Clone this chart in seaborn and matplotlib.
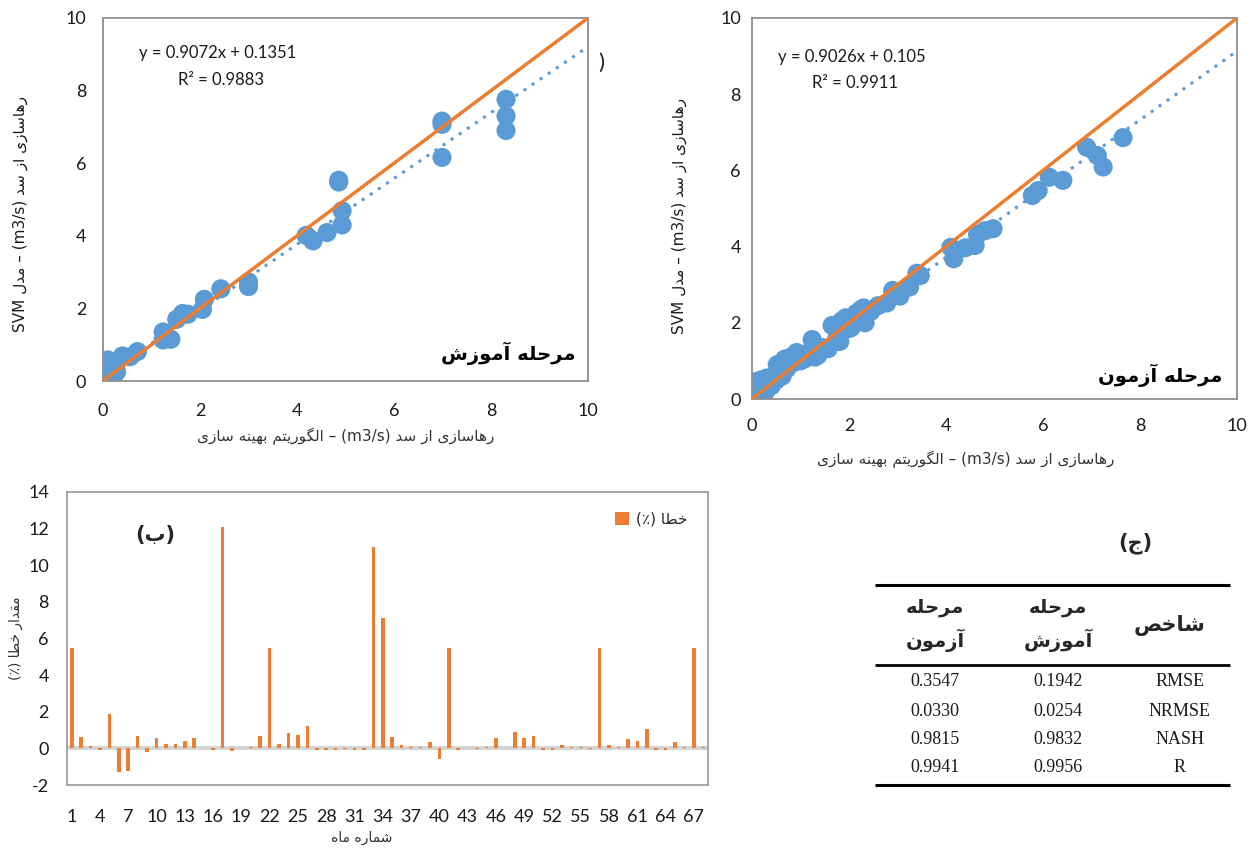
import re
import numpy as np
import pandas as pd
import matplotlib
matplotlib.use("Agg")
import matplotlib.pyplot as plt
import seaborn as sns

# ---------------- data ----------------
train_obs = [0.0, 0.0, 0.0, 0.0, 0.02, 0.05, 0.08, 0.1, 0.12, 0.15, 0.18, 0.2, 0.22, 0.25, 0.28, 0.3,
             0.4, 0.56, 0.71, 1.24, 1.24, 1.4, 1.52, 1.64, 1.75, 2.05, 2.09, 2.43, 3.0, 3.0,
             4.19, 4.33, 4.62, 4.86, 4.86, 4.93, 4.93, 6.99, 6.99, 6.99, 8.31, 8.31, 8.31]
train_pred = [0.0, 0.1, 0.2, 0.33, 0.05, 0.25, 0.12, 0.58, 0.3, 0.2, 0.5, 0.1, 0.35, 0.45, 0.25, 0.55,
              0.69, 0.67, 0.81, 1.35, 1.13, 1.15, 1.70, 1.86, 1.84, 1.97, 2.25, 2.54, 2.73, 2.6,
              4.01, 3.86, 4.09, 5.48, 5.53, 4.69, 4.30, 7.07, 7.16, 6.16, 7.76, 7.3, 6.9]

test_obs = [0.0, 0.0, 0.02, 0.03, 0.05, 0.06, 0.1, 0.1, 0.12, 0.15, 0.18, 0.2, 0.22, 0.25, 0.28, 0.3,
            0.33, 0.36, 0.4, 0.45, 0.5, 0.52, 0.55, 0.6, 0.62, 0.68, 0.72, 0.8, 0.85, 0.92, 1.0,
            1.08, 1.15, 1.24, 1.3, 1.36, 1.45, 1.57, 1.65, 1.75, 1.81, 1.85, 1.93, 2.0, 2.05,
            2.15, 2.25, 2.3, 2.33, 2.45, 2.6, 2.78, 2.9, 2.98, 3.05, 3.25, 3.4, 3.47, 4.1, 4.16,
            4.4, 4.6, 4.65, 4.81, 4.97, 5.78, 5.9, 6.13, 6.41, 6.9, 7.12, 7.24, 7.65]
test_pred = [0.0, 0.15, 0.35, 0.45, 0.05, 0.25, 0.1, 0.4, 0.3, 0.15, 0.5, 0.25, 0.05, 0.4, 0.2, 0.55,
             0.3, 0.45, 0.35, 0.6, 0.5, 0.9, 0.7, 0.95, 0.6, 1.05, 0.8, 1.1, 0.95, 1.22, 1.0,
             1.05, 1.2, 1.56, 1.1, 1.15, 1.35, 1.32, 1.93, 1.6, 1.51, 2.05, 2.13, 1.85, 1.88,
             2.25, 2.35, 2.39, 2.0, 2.3, 2.45, 2.52, 2.85, 2.74, 2.7, 2.94, 3.3, 3.24, 3.98, 3.68,
             3.97, 4.03, 4.32, 4.42, 4.47, 5.34, 5.47, 5.82, 5.74, 6.61, 6.39, 6.09, 6.86]

train_fit = [0.9072, 0.1351]   # slope, intercept
train_r2 = 0.9883
test_fit = [0.9026, 0.105]
test_r2 = 0.9911

months = list(range(1, 69))
errors = [5.5, 0.6, 0.15, -0.1, 1.9, -1.3, -1.25, 0.65, -0.2, 0.55, 0.25, 0.25, 0.4, 0.55, 0.02, -0.1,
          12.1, -0.15, 0.0, 0.05, 0.65, 5.5, 0.25, 0.85, 0.75, 1.2, -0.1, -0.1, -0.1, -0.05, -0.1, -0.1,
          11.0, 7.1, 0.6, 0.2, 0.05, 0.05, 0.35, -0.6, 5.5, -0.1, 0.0, -0.02, 0.1, 0.55, 0.0, 0.9,
          0.55, 0.65, -0.1, -0.1, 0.2, 0.1, 0.1, -0.02, 5.5, 0.2, 0.1, 0.5, 0.4, 1.05, -0.1, -0.1,
          0.35, 0.05, 5.5, 0.05]

table_metrics = ["RMSE", "NRMSE", "NASH", "R"]
table_train = ["0.1942", "0.0254", "0.9832", "0.9956"]
table_test = ["0.3547", "0.0330", "0.9815", "0.9941"]

xlabel_fa = "رهاسازی از سد (m3/s) – الگوریتم بهینه سازی"
ylabel_fa = "رهاسازی از سد (m3/s) – مدل SVM"
train_title = "مرحله آموزش"
test_title = "مرحله آزمون"
bar_ylabel = "مقدار خطا (٪)"
bar_xlabel = "شماره ماه"
legend_label = "خطا (٪)"
panel_b = "(ب)"
panel_c = "(ج)"
hdr_metric = "شاخص"
hdr_train = "مرحله\nآموزش"
hdr_test = "مرحله\nآزمون"

# ------------- Persian shaping (display only) -------------
FORMS = {
    '\u0622': ('\uFE81', '\uFE82', None, None),
    '\u0627': ('\uFE8D', '\uFE8E', None, None),
    '\u0628': ('\uFE8F', '\uFE90', '\uFE91', '\uFE92'),
    '\u062A': ('\uFE95', '\uFE96', '\uFE97', '\uFE98'),
    '\u062C': ('\uFE9D', '\uFE9E', '\uFE9F', '\uFEA0'),
    '\u062D': ('\uFEA1', '\uFEA2', '\uFEA3', '\uFEA4'),
    '\u062E': ('\uFEA5', '\uFEA6', '\uFEA7', '\uFEA8'),
    '\u062F': ('\uFEA9', '\uFEAA', None, None),
    '\u0631': ('\uFEAD', '\uFEAE', None, None),
    '\u0632': ('\uFEAF', '\uFEB0', None, None),
    '\u0633': ('\uFEB1', '\uFEB2', '\uFEB3', '\uFEB4'),
    '\u0634': ('\uFEB5', '\uFEB6', '\uFEB7', '\uFEB8'),
    '\u0635': ('\uFEB9', '\uFEBA', '\uFEBB', '\uFEBC'),
    '\u0637': ('\uFEC1', '\uFEC2', '\uFEC3', '\uFEC4'),
    '\u0642': ('\uFED5', '\uFED6', '\uFED7', '\uFED8'),
    '\u0644': ('\uFEDD', '\uFEDE', '\uFEDF', '\uFEE0'),
    '\u0645': ('\uFEE1', '\uFEE2', '\uFEE3', '\uFEE4'),
    '\u0646': ('\uFEE5', '\uFEE6', '\uFEE7', '\uFEE8'),
    '\u0647': ('\uFEE9', '\uFEEA', '\uFEEB', '\uFEEC'),
    '\u0648': ('\uFEED', '\uFEEE', None, None),
    '\u06AF': ('\uFB92', '\uFB93', '\uFB94', '\uFB95'),
    '\u06CC': ('\uFBFC', '\uFBFD', '\uFBFE', '\uFBFF'),
}
MIRROR = str.maketrans("()", ")(")


def _shape_line(s):
    out = []
    n = len(s)
    for i, ch in enumerate(s):
        if ch not in FORMS:
            out.append(ch)
            continue
        f = FORMS[ch]
        prev = s[i - 1] if i > 0 else ''
        nxt = s[i + 1] if i < n - 1 else ''
        pj = prev in FORMS and FORMS[prev][2] is not None
        nj = f[2] is not None and nxt in FORMS
        if pj and nj:
            out.append(f[3])
        elif pj:
            out.append(f[1])
        elif nj:
            out.append(f[2])
        else:
            out.append(f[0])
    shaped = ''.join(out)
    parts = re.split(r'([A-Za-z0-9][A-Za-z0-9/.]*)', shaped)
    vis = []
    for p in reversed(parts):
        if p and re.match(r'[A-Za-z0-9]', p):
            vis.append(p)
        else:
            vis.append(p[::-1].translate(MIRROR))
    return ''.join(vis)


def fa(s):
    return '\n'.join(_shape_line(l) for l in s.split('\n'))


# ---------------- style ----------------
sns.set_theme(style="white")
plt.rcParams['font.family'] = ['Lato', 'DejaVu Sans']
plt.rcParams['axes.unicode_minus'] = False
FA = ['DejaVu Sans']
BLUE = '#5B9BD5'
ORANGE = '#ED7D31'
FRAME = '#8F8F8F'

fig = plt.figure(figsize=(12.54, 8.49), dpi=100)
W, H = 1254, 849


def add_ax(l, t, r, b):
    return fig.add_axes([l / W, 1 - b / H, (r - l) / W, (b - t) / H])


def style_scatter(ax):
    ax.set_xlim(0, 10)
    ax.set_ylim(0, 10)
    ax.set_xticks(range(0, 11, 2))
    ax.set_yticks(range(0, 11, 2))
    for sp in ax.spines.values():
        sp.set_color(FRAME)
        sp.set_linewidth(1.3)
    ax.tick_params(length=0, labelsize=13, colors='#1a1a1a')


def scatter_panel(ax, obs, pred, fit, r2, title, eq_pos, r2_pos, title_pos):
    df = pd.DataFrame({'obs': obs, 'pred': pred})
    sns.scatterplot(data=df, x='obs', y='pred', ax=ax, color=BLUE, s=190,
                    edgecolor='none', zorder=2)
    xs = np.array([0.0, 10.0])
    ax.plot(xs, xs, color=ORANGE, lw=2.5, zorder=4)
    ax.plot(xs, fit[0] * xs + fit[1], color=BLUE, lw=2.2, ls=(0, (1, 2.2)), zorder=3)
    style_scatter(ax)
    ax.set_xlabel(fa(xlabel_fa), family=FA, fontsize=11, color='#333333')
    ax.set_ylabel(fa(ylabel_fa), family=FA, fontsize=11, color='#1a1a1a')
    ax.text(eq_pos[0], eq_pos[1], f"y = {fit[0]:.4f}x + {fit[1]:g}", transform=ax.transAxes,
            fontsize=12, va='center', ha='left', color='#1a1a1a')
    ax.text(r2_pos[0], r2_pos[1], f"R² = {r2:.4f}", transform=ax.transAxes,
            fontsize=12, va='center', ha='left', color='#1a1a1a')
    ax.text(title_pos[0], title_pos[1], fa(title), transform=ax.transAxes, family=FA,
            fontsize=14, fontweight='bold', ha='right', va='center', color='black')


# top-left (training)
ax1 = add_ax(103, 18, 588, 381)
scatter_panel(ax1, train_obs, train_pred, train_fit, train_r2, train_title,
              (0.074, 0.904), (0.155, 0.829), (0.975, 0.075))
ax1.tick_params(axis='x', pad=16)
ax1.tick_params(axis='y', pad=12)
ax1.xaxis.set_label_coords(0.5, -0.13)
ax1.yaxis.set_label_coords(-0.155, 0.46)

# top-right (testing)
ax2 = add_ax(752, 18, 1237, 399)
scatter_panel(ax2, test_obs, test_pred, test_fit, test_r2, test_title,
              (0.054, 0.898), (0.124, 0.829), (0.969, 0.062))
ax2.tick_params(axis='x', pad=14)
ax2.tick_params(axis='y', pad=8)
ax2.xaxis.set_label_coords(0.44, -0.135)
ax2.yaxis.set_label_coords(-0.135, 0.48)

# bottom-left bar chart
ax3 = add_ax(67, 492, 708, 785)
bdf = pd.DataFrame({'month': months, 'err': errors})
sns.barplot(data=bdf, x='month', y='err', ax=ax3, color=ORANGE, width=0.38,
            saturation=1, label=fa(legend_label), edgecolor='none', zorder=3)
ax3.axhline(0, color='#D4D4D4', lw=3, zorder=2)
ax3.set_xlim(-0.5, len(months) - 0.5)
ax3.set_ylim(-2, 14)
ax3.set_yticks(range(-2, 15, 2))
tick_pos = list(range(0, len(months), 3))
ax3.set_xticks(tick_pos)
ax3.set_xticklabels([str(months[i]) for i in tick_pos])
for sp in ax3.spines.values():
    sp.set_color('#A0A0A0')
    sp.set_linewidth(1.3)
ax3.tick_params(length=0, labelsize=13, colors='#1a1a1a')
ax3.tick_params(axis='x', pad=17)
ax3.tick_params(axis='y', pad=13)
ax3.set_xlabel(fa(bar_xlabel), family=FA, fontsize=10, color='#333333')
ax3.set_ylabel(fa(bar_ylabel), family=FA, fontsize=10, color='#333333')
ax3.xaxis.set_label_coords(0.46, -0.155)
ax3.yaxis.set_label_coords(-0.068, 0.5)
leg = ax3.legend(loc='upper right', frameon=False, prop={'family': FA, 'size': 11},
                 handlelength=0.9, handleheight=0.9, handletextpad=0.5,
                 bbox_to_anchor=(0.99, 0.98))
ax3.text(0.137, 0.853, fa(panel_b), transform=ax3.transAxes, family=FA, fontsize=15,
         fontweight='bold', ha='center', va='center')

# overlay axes for table and stray texts
ov = fig.add_axes([0, 0, 1, 1], zorder=-1)
ov.set_xlim(0, W)
ov.set_ylim(H, 0)
ov.axis('off')
ov.text(601, 63, ")", fontsize=16, ha='center', va='center', color='#1a1a1a')
ov.text(1135, 543, fa(panel_c), family=FA, fontsize=15, fontweight='bold',
        ha='center', va='center')
for y, lw in [(585, 2.2), (665, 2.0), (785, 2.2)]:
    ov.plot([875, 1230], [y, y], color='black', lw=lw, solid_capstyle='butt')
col_test, col_train, col_metric = 935, 1058, 1170
ov.text(col_metric, 625, fa(hdr_metric), family=FA, fontsize=15, fontweight='bold',
        ha='center', va='center')
ov.text(col_train, 625, fa(hdr_train), family=FA, fontsize=14, fontweight='bold',
        ha='center', va='center', linespacing=1.6)
ov.text(col_test, 625, fa(hdr_test), family=FA, fontsize=14, fontweight='bold',
        ha='center', va='center', linespacing=1.6)
row_y = [682, 711, 739, 767]
for i in range(len(table_metrics)):
    ov.text(col_test, row_y[i], table_test[i], family='Liberation Serif', fontsize=13,
            ha='center', va='center', color='#1a1a1a')
    ov.text(col_train, row_y[i], table_train[i], family='Liberation Serif', fontsize=13,
            ha='center', va='center', color='#1a1a1a')
    ov.text(1180, row_y[i], table_metrics[i], family='Liberation Serif', fontsize=13,
            ha='center', va='center', color='#1a1a1a')

fig.savefig("out.png", dpi=100, facecolor='white')
